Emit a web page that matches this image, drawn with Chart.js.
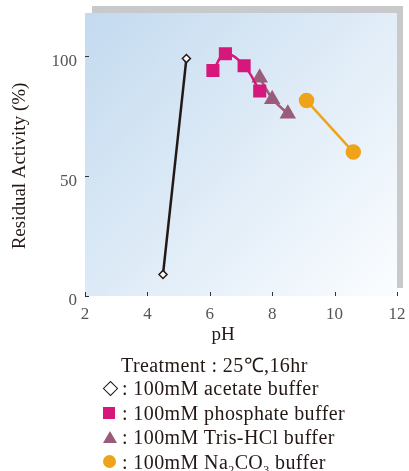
<!DOCTYPE html>
<html>
<head>
<meta charset="utf-8">
<script src="https://cdn.jsdelivr.net/npm/chart.js@4/dist/chart.umd.min.js"></script>
<style>
  body { margin: 0; background: #fff; }
  #wrap { position: relative; width: 409px; height: 471px; }
  #chart { position: absolute; left: 0; top: 0; }
  .row { position: absolute; left: 0; width: 409px; height: 24px; line-height: 24px;
         font-family: "Liberation Serif", serif; font-size: 20px; letter-spacing: 0.4px;
         color: #231815; white-space: nowrap; }
  .row .txt { position: absolute; left: 122px; top: 0; }
  .mk { position: absolute; }
</style>
</head>
<body>
<div id="wrap">
  <canvas id="chart" width="409" height="471"></canvas>
  <div class="row" style="top:353px"><span class="txt" style="left:121px">Treatment : 25℃,16hr</span></div>
  <div class="row" style="top:376px">
    <span class="mk" style="left:105px;top:7px;width:9px;height:9px;border:1.3px solid #231815;background:#fff;transform:rotate(45deg)"></span>
    <span class="txt">: 100mM acetate buffer</span></div>
  <div class="row" style="top:401px">
    <span class="mk" style="left:103px;top:6px;width:12px;height:12px;background:#d6177b"></span>
    <span class="txt">: 100mM phosphate buffer</span></div>
  <div class="row" style="top:425px">
    <span class="mk" style="left:103px;top:6px;width:0;height:0;border-left:7px solid transparent;border-right:7px solid transparent;border-bottom:12px solid #9b5c7b"></span>
    <span class="txt">: 100mM Tris-HCl buffer</span></div>
  <div class="row" style="top:450px">
    <span class="mk" style="left:103px;top:5px;width:13px;height:13px;border-radius:50%;background:#efa31b"></span>
    <span class="txt">: 100mM Na<sub style="font-size:12px">2</sub>CO<sub style="font-size:12px">3</sub> buffer</span></div>
</div>
<script>
// values (pH, residual activity %)
const acetatePH = [4.5, 5.25];
const acetateAct = [9, 99];
const phosphatePH = [6.1, 6.5, 7.1, 7.6];
const phosphateAct = [94, 101, 96, 85.5];
const trisPH = [7.6, 8.0, 8.5];
const trisAct = [91, 82, 76];
const carbonatePH = [9.1, 10.6];
const carbonateAct = [81.5, 60];

const xTicks = [2, 4, 6, 8, 10, 12];
const yTicks = [0, 50, 100];

function pts(xs, ys) {
  return xs.map((x, i) => ({ x: x, y: ys[i] }));
}

// gradient panel with the grey frame behind it, inward ticks, axis titles
const panel = {
  id: "panel",
  beforeDraw(chart) {
    const { ctx, chartArea: a } = chart;
    ctx.save();
    ctx.fillStyle = "#c8c9cb";
    ctx.fillRect(a.left + 7, a.top - 7, a.width - 1, a.height - 1);
    const g = ctx.createLinearGradient(a.left, a.top, a.right, a.bottom);
    g.addColorStop(0, "#c3daef");
    g.addColorStop(1, "#fbfdff");
    ctx.fillStyle = g;
    ctx.fillRect(a.left, a.top, a.width, a.height);
    ctx.restore();
  },
  afterDraw(chart) {
    const { ctx, chartArea: a, scales } = chart;
    ctx.save();
    ctx.strokeStyle = "#333";
    ctx.lineWidth = 1;
    ctx.beginPath();
    xTicks.forEach((v) => {
      const px = Math.round(scales.x.getPixelForValue(v)) + 0.5;
      ctx.moveTo(px, a.bottom);
      ctx.lineTo(px, a.bottom - 4);
    });
    yTicks.forEach((v) => {
      const py = Math.round(scales.y.getPixelForValue(v)) + 0.5;
      ctx.moveTo(a.left, py);
      ctx.lineTo(a.left + 4, py);
    });
    ctx.stroke();

    ctx.fillStyle = "#231815";
    ctx.textAlign = "center";
    ctx.textBaseline = "alphabetic";
    ctx.font = "19px 'Liberation Serif'";
    ctx.fillText("pH", 223, 340);
    ctx.textBaseline = "middle";
    ctx.translate(20, 166);
    ctx.rotate(-Math.PI / 2);
    ctx.fillText("Residual Activity (%)", 0, 0);
    ctx.restore();
  }
};

new Chart(document.getElementById("chart"), {
  type: "scatter",
  data: {
    datasets: [
      {
        data: pts(acetatePH, acetateAct),
        showLine: true,
        borderColor: "#231815",
        borderWidth: 2.5,
        pointStyle: "rectRot",
        pointRadius: 4,
        pointBackgroundColor: "#fff",
        pointBorderColor: "#231815",
        pointBorderWidth: 1.5,
        order: 1
      },
      {
        data: pts(phosphatePH, phosphateAct),
        showLine: true,
        tension: 0.4,
        borderColor: "#d6177b",
        borderWidth: 2.5,
        pointStyle: "rect",
        pointRadius: 7.5,
        pointBackgroundColor: "#d6177b",
        pointBorderColor: "#d6177b",
        order: 2
      },
      {
        data: pts(trisPH, trisAct),
        showLine: true,
        borderColor: "#9b5c7b",
        borderWidth: 2.5,
        pointStyle: "triangle",
        pointRadius: 7,
        pointBackgroundColor: "#9b5c7b",
        pointBorderColor: "#9b5c7b",
        order: 3
      },
      {
        data: pts(carbonatePH, carbonateAct),
        showLine: true,
        borderColor: "#efa31b",
        borderWidth: 2.5,
        pointStyle: "circle",
        pointRadius: 6.5,
        pointBackgroundColor: "#efa31b",
        pointBorderColor: "#efa31b",
        order: 4
      }
    ]
  },
  options: {
    responsive: false,
    animation: false,
    layout: { padding: { left: 0, top: 13, right: 12, bottom: 145 } },
    plugins: { legend: { display: false }, tooltip: { enabled: false } },
    scales: {
      x: {
        min: 2,
        max: 12,
        afterFit: (s) => { s.height = 30; s.paddingLeft = 0; s.paddingRight = 0; },
        afterBuildTicks: (s) => { s.ticks = xTicks.map((v) => ({ value: v })); },
        grid: { drawOnChartArea: false, drawTicks: false, color: "transparent" },
        border: { display: false },
        ticks: { padding: 8, color: "#555", font: { family: "Liberation Serif", size: 17 } }
      },
      y: {
        min: 0,
        max: 118,
        afterFit: (s) => { s.width = 85; s.paddingTop = 0; s.paddingBottom = 0; },
        afterBuildTicks: (s) => { s.ticks = yTicks.map((v) => ({ value: v })); },
        grid: { drawOnChartArea: false, drawTicks: false, color: "transparent" },
        border: { display: false },
        ticks: { padding: 8, labelOffset: 5, color: "#555", font: { family: "Liberation Serif", size: 17 } }
      }
    }
  },
  plugins: [panel]
});
</script>
</body>
</html>
